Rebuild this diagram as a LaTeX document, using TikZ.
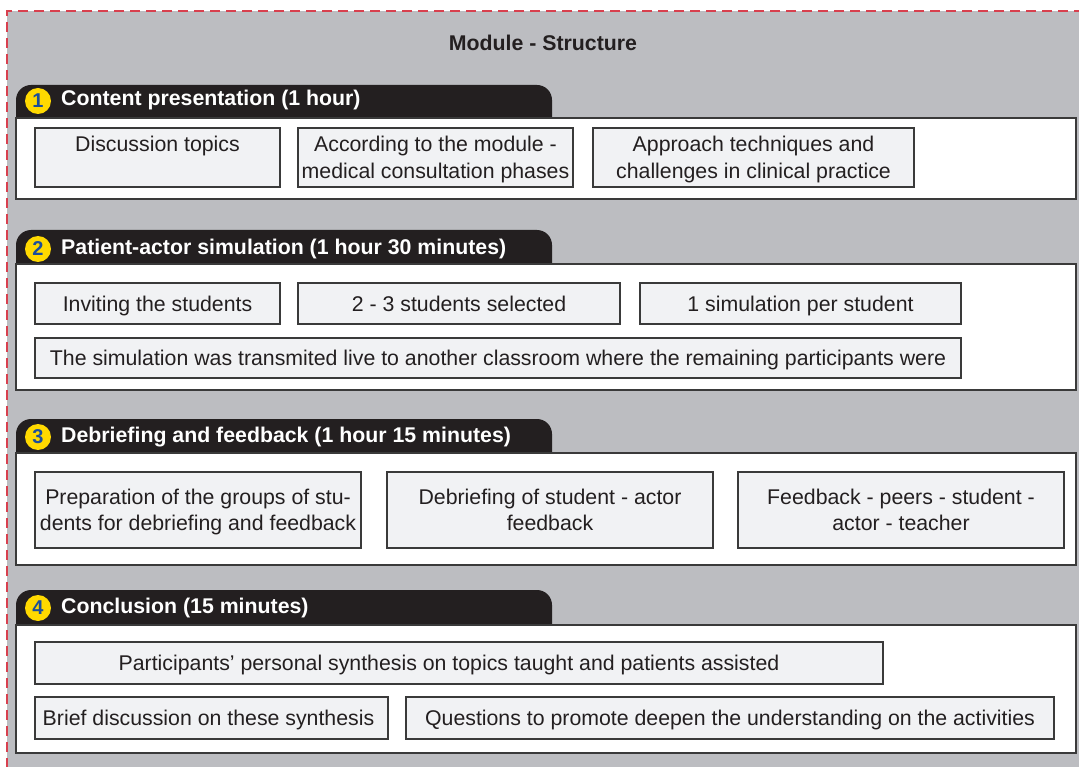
\documentclass[tikz,border=0pt]{standalone}
\usepackage{fontspec}
\setmainfont{Liberation Sans}

\definecolor{backgrey}{HTML}{BCBDC1}
\definecolor{borderred}{HTML}{D8404E}
\definecolor{tabfill}{HTML}{231F20}
\definecolor{boxfill}{HTML}{F1F2F4}
\definecolor{boxline}{HTML}{3A3A3A}
\definecolor{ink}{HTML}{231F20}
\definecolor{dotyellow}{HTML}{FFD900}
\definecolor{dotblue}{HTML}{1B4E9B}

\begin{document}
\begin{tikzpicture}[x=1pt,y=-1pt]

    \tikzset{
      box/.style={
        draw=boxline,
        fill=boxfill,
        line width=1.3pt,
        inner sep=0pt,
        outer sep=0pt,
        anchor=north west,
        align=center,
        text=ink,
        text height=15.3pt,
        text depth=0pt,
        font=\fontsize{21.3}{26.5}\selectfont,
      },
      twolines/.style={text height=41.8pt},
      panel/.style={draw=boxline,fill=white,line width=1.3pt},
      tab/.style={fill=tabfill,rounded corners=15pt},
      numdot/.style={
        circle,
        fill=dotyellow,
        inner sep=0pt,
        minimum size=26pt,
        text=dotblue,
        font=\fontsize{20}{20}\selectfont\bfseries,
      },
      headtext/.style={anchor=west,inner sep=0pt,text=white,font=\fontsize{21.3}{25}\selectfont\bfseries},
      outline/.style={draw=borderred,line width=2pt,dash pattern=on 10pt off 6pt},
    }
    \clip (0,0) rectangle (1079,767);

	\fill[backgrey] (7,11) rectangle (1100,800);
	\draw[outline] (1100,11)--(7,11)--(7,800);
	\node[text=ink,font=\fontsize{21.3}{25}\selectfont\bfseries] (title) at (543,43) {Module - Structure};

	% 1
	\fill[tab] (16,85) rectangle (552,140);
	\draw[panel] (16,118) rectangle (1076,199);
	\node[numdot] (n1) at (38,101) {1};
	\node[headtext] (h1) at (61,100) {Content presentation (1 hour)};
	\node[box,twolines,minimum width=245pt,minimum height=59pt] (topics) at (35,128) {Discussion topics\\ \mbox{}};
	\node[box,twolines,minimum width=275pt,minimum height=59pt] (phases) at (298,128) {According to the module -\\medical consultation phases};
	\node[box,twolines,minimum width=321pt,minimum height=59pt] (techniques) at (593,128) {Approach techniques and\\challenges in clinical practice};

	% 2
	\fill[tab] (16,230) rectangle (552,290);
	\draw[panel] (16,264) rectangle (1076,390);
	\node[numdot] (n2) at (38,249) {2};
	\node[headtext] (h2) at (61,249) {Patient-actor simulation (1 hour 30 minutes)};
	\node[box,minimum width=245pt,minimum height=41pt] (inviting) at (35,283) {Inviting the students};
	\node[box,minimum width=322pt,minimum height=41pt] (selected) at (298,283) {2 - 3 students selected};
	\node[box,minimum width=321pt,minimum height=41pt] (perstudent) at (640,283) {1 simulation per student};
	\node[box,minimum width=926pt,minimum height=40pt] (live) at (35,338) {The simulation was transmited live to another classroom where the remaining participants were};

	% 3
	\fill[tab] (16,419) rectangle (552,480);
	\draw[panel] (16,453) rectangle (1076,565);
	\node[numdot] (n3) at (38,437) {3};
	\node[headtext] (h3) at (61,437) {Debriefing and feedback (1 hour 15 minutes)};
	\node[box,twolines,minimum width=326pt,minimum height=76pt] (groups) at (35,472) {Preparation of the groups of stu-\\dents for debriefing and feedback};
	\node[box,twolines,minimum width=326pt,minimum height=76pt] (debrief) at (387,472) {Debriefing of student - actor\\feedback};
	\node[box,twolines,minimum width=326pt,minimum height=76pt] (feedback) at (738,472) {Feedback - peers - student -\\actor - teacher};

	% 4
	\fill[tab] (16,590) rectangle (552,650);
	\draw[panel] (16,625) rectangle (1076,753);
	\node[numdot] (n4) at (38,608) {4};
	\node[headtext] (h4) at (61,608) {Conclusion (15 minutes)};
	\node[box,minimum width=848pt,minimum height=42pt] (synthesis) at (35,642) {Participants’ personal synthesis on topics taught and patients assisted\hspace*{20pt}};
	\node[box,minimum width=353pt,minimum height=42pt] (brief) at (35,697) {Brief discussion on these synthesis\hspace*{6pt}};
	\node[box,minimum width=648pt,minimum height=42pt] (questions) at (406,697) {Questions to promote deepen the understanding on the activities};

\end{tikzpicture}
\end{document}
